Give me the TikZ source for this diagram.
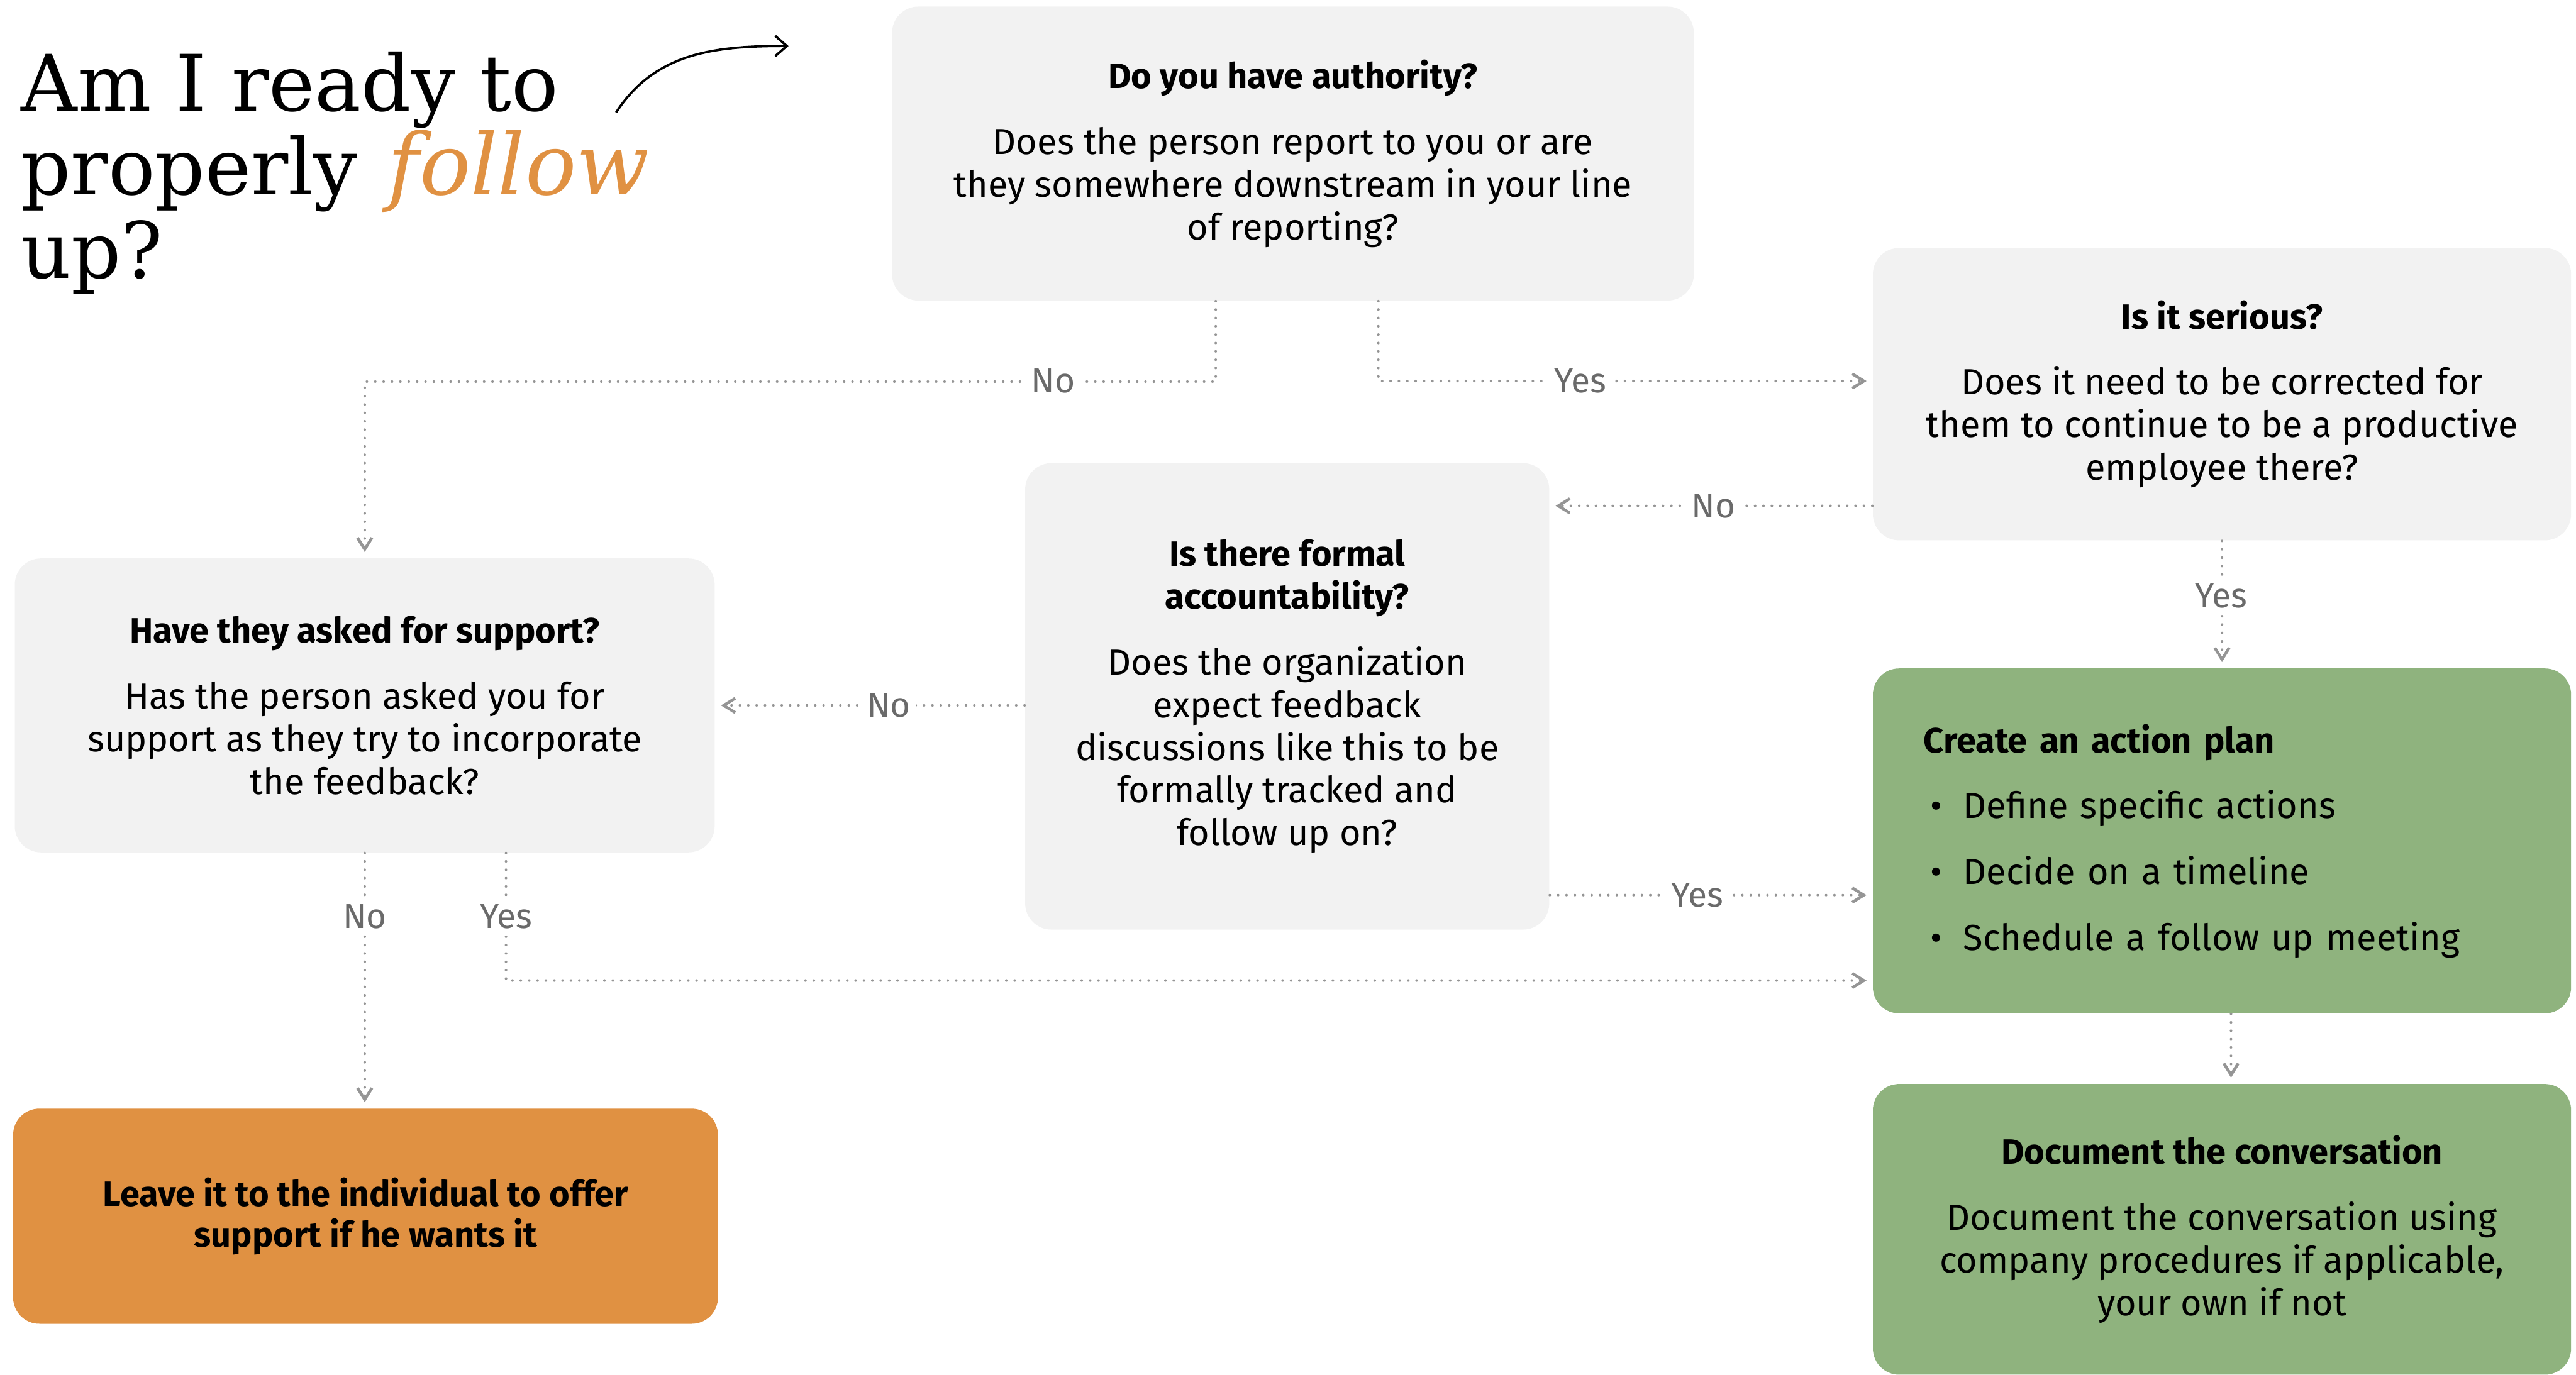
\documentclass[tikz,border=0pt]{standalone}
\usepackage{fontspec}
\setmainfont{Fira Sans}
\newfontfamily\titlefont{DejaVu Serif}
\usetikzlibrary{arrows.meta}
\definecolor{boxgray}{HTML}{F2F2F2}
\definecolor{leafgreen}{HTML}{8FB37E}
\definecolor{leaforange}{HTML}{E09142}
\definecolor{flowgray}{HTML}{959595}
\definecolor{answergray}{HTML}{6A6A6A}
% bold box headings run a touch narrower than the body text
\newcommand{\boxhead}[1]{{\fontsize{12.2}{14.8}\selectfont\bfseries #1}}

\begin{document}
\begin{tikzpicture}[
            box/.style={rounded corners=0.32cm, align=center, inner sep=0pt, font=\fontsize{12.55}{14.8}\selectfont},
            question/.style={box, fill=boxgray},
            outcome/.style={box, fill=leafgreen},
            flow/.style={draw=flowgray, line width=0.9pt, line cap=round, dash pattern=on 0pt off 2.9pt,
                -{Straight Barb[length=4pt, width=5pt, line width=1pt]}, shorten >=2pt},
            answer/.style={fill=white, text=answergray, inner sep=2pt, font=\fontsize{12}{14}\selectfont}
        ]
            \useasboundingbox (0,0) rectangle (31.36,-16.74);

            % Heading on top left
            \node[anchor=north west, inner sep=0pt, align=left, font=\titlefont\fontsize{27}{29}\selectfont] (heading) at (0.25,-0.62)
                {Am I ready to\\properly\hspace{2pt} \textcolor{leaforange}{\fontsize{29.5}{29}\selectfont\itshape follow}\\up?};
            \coordinate (ptail) at (7.50,-1.37);
            \coordinate (phead) at (9.60,-0.56);
            \draw[line width=0.8pt, -{Straight Barb[length=4pt, width=7pt]}] (ptail) to[out=57, in=180] (phead);

            % Questions
            \node[question, minimum width=9.76cm, minimum height=3.58cm] (authority) at (15.74,-1.87)
                {\boxhead{Do you have authority?}\\[8pt]Does the person report to you or are\\they somewhere downstream in your line\\of reporting?};
            \node[question, minimum width=8.50cm, minimum height=3.56cm] (serious) at (27.05,-4.80)
                {\boxhead{Is it serious?}\\[8pt]Does it need to be corrected for\\them to continue to be a productive\\employee there?};
            \node[question, minimum width=6.38cm, minimum height=5.68cm] (formal) at (15.67,-8.48)
                {\boxhead{Is there formal}\\\boxhead{accountability?}\\[8pt]Does the organization\\expect feedback\\discussions like this to be\\formally tracked and\\follow up on?};
            \node[question, minimum width=8.52cm, minimum height=3.58cm] (support) at (4.44,-8.59)
                {\boxhead{Have they asked for support?}\\[8pt]Has the person asked you for\\support as they try to incorporate\\the feedback?};

            % Outcomes
            \node[outcome, minimum width=8.50cm, minimum height=4.20cm, align=left, text width=7.26cm,
                font=\fontsize{12.55}{22.8}\selectfont] (plan) at (27.05,-10.24)
                {\boxhead{Create an action plan}\\
                 \hspace*{0.08cm}\makebox[0.4cm][l]{\textbullet}Define specific actions\\
                 \hspace*{0.08cm}\makebox[0.4cm][l]{\textbullet}Decide on a timeline\\
                 \hspace*{0.08cm}\makebox[0.4cm][l]{\textbullet}Schedule a follow up meeting};
            \node[outcome, minimum width=8.50cm, minimum height=3.54cm] (document) at (27.05,-14.97)
                {\boxhead{Document the conversation}\\[8pt]Document the conversation using\\company procedures if applicable,\\your own if not};
            \node[box, fill=leaforange, minimum width=8.58cm, minimum height=2.62cm, font=\fontsize{12.2}{14.2}\selectfont\bfseries] (leave) at (4.45,-14.81)
                {Leave it to the individual to offer\\support if he wants it};

            % Dotted connectors
            \coordinate (seriousno) at ([yshift=-1.36cm]serious.west);
            \coordinate (formalyes) at ([yshift=-2.42cm]formal.east);
            \draw[flow] ([xshift=-0.94cm]authority.south) -- ++(0,-0.98) -| (support.north);
            \draw[flow] ([xshift=1.04cm]authority.south) |- ([yshift=0.16cm]serious.west);
            \draw[flow] (seriousno) -- (seriousno -| formal.east);
            \draw[flow] (serious.south) -- (plan.north);
            \draw[flow] (formal.west |- support.east) -- (support.east);
            \draw[flow] (formalyes) -- (formalyes -| plan.west);
            \draw[flow] (support.south) -- (support.south |- leave.north);
            \draw[flow] ([xshift=1.72cm]support.south) |- ([yshift=-1.70cm]plan.west);
            \draw[flow] ([xshift=0.11cm]plan.south) -- ([xshift=0.11cm]document.north);

            % Answers on the connectors
            \node[answer] (authno) at (12.82,-4.64) {No};
            \node[answer] (authyes) at (19.24,-4.64) {Yes};
            \node[answer] (seriousnolbl) at (20.86,-6.16) {No};
            \node[answer] (seriousyes) at (27.04,-7.26) {Yes};
            \node[answer] (formalno) at (10.82,-8.59) {No};
            \node[answer] (formalyeslbl) at (20.66,-10.90) {Yes};
            \node[answer] (supportno) at (4.44,-11.16) {No};
            \node[answer] (supportyes) at (6.16,-11.16) {Yes};

        \end{tikzpicture}
\end{document}
